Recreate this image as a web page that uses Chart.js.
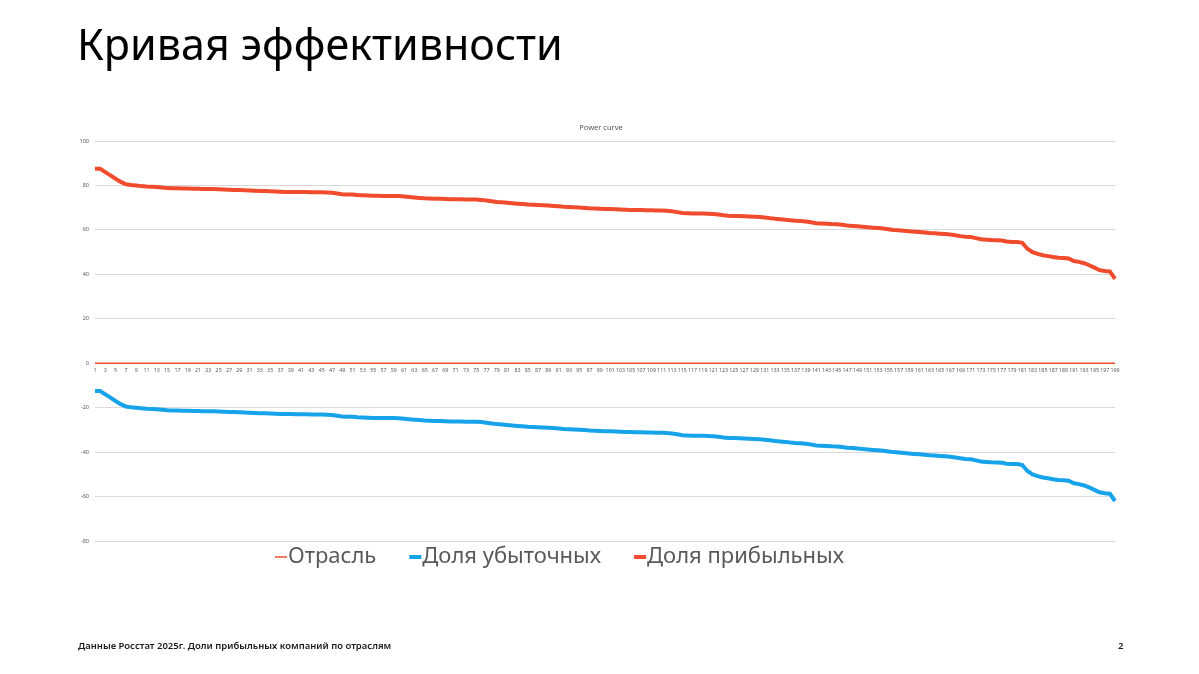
<!DOCTYPE html>
<html lang='ru'>
<head>
    <meta charset='UTF-8'>
    <title>Кривая эффективности</title>
    <script src="https://cdn.jsdelivr.net/npm/chart.js@4.4.0/dist/chart.umd.min.js"></script>
    <style>
        html, body{
            margin: 0;
            padding: 0;
            background: #fff;
        }
        #page{
            position: relative;
            width: 1199px;
            height: 674px;
            overflow: hidden;
            font-family: "Noto Sans", sans-serif;
        }
        #chart_parent{
            position: absolute;
            left: 0;
            top: 0;
            width: 1199px;
            height: 674px;
        }
        #slide_title{
            position: absolute;
            left: 77px;
            top: 22px;
            font-size: 43px;
            line-height: 1;
            color: #000;
        }
        #chart_title{
            position: absolute;
            left: 501px;
            width: 200px;
            top: 124px;
            text-align: center;
            font-size: 7.5px;
            line-height: 1;
            color: #595959;
        }
        #note{
            position: absolute;
            left: 78px;
            top: 641px;
            font-size: 9.5px;
            line-height: 1;
            font-weight: 600;
            color: #1a1a1a;
        }
        #page_no{
            position: absolute;
            left: 1118px;
            top: 641px;
            font-size: 9.5px;
            line-height: 1;
            font-weight: 600;
            color: #1a1a1a;
        }
    </style>
</head>
<body>
<div id="page">
    <div id="chart_parent">
        <canvas id="myChart"></canvas>
    </div>
    <div id="slide_title">Кривая эффективности</div>
    <div id="chart_title">Power curve</div>
    <div id="note">Данные Росстат 2025г. Доли прибыльных компаний по отраслям</div>
    <div id="page_no">2</div>
</div>
<script>
    // номера отраслей по оси X
    var v_labels = [
        1,2,3,4,5,6,7,8,9,10,11,12,13,14,15,16,17,18,19,20,
        21,22,23,24,25,26,27,28,29,30,31,32,33,34,35,36,37,38,39,40,
        41,42,43,44,45,46,47,48,49,50,51,52,53,54,55,56,57,58,59,60,
        61,62,63,64,65,66,67,68,69,70,71,72,73,74,75,76,77,78,79,80,
        81,82,83,84,85,86,87,88,89,90,91,92,93,94,95,96,97,98,99,100,
        101,102,103,104,105,106,107,108,109,110,111,112,113,114,115,116,117,118,119,120,
        121,122,123,124,125,126,127,128,129,130,131,132,133,134,135,136,137,138,139,140,
        141,142,143,144,145,146,147,148,149,150,151,152,153,154,155,156,157,158,159,160,
        161,162,163,164,165,166,167,168,169,170,171,172,173,174,175,176,177,178,179,180,
        181,182,183,184,185,186,187,188,189,190,191,192,193,194,195,196,197,198,199
    ];

    // Отрасль (нулевая линия)
    var v_industry = [
        0,0,0,0,0,0,0,0,0,0,0,0,0,0,0,0,0,0,0,0,
        0,0,0,0,0,0,0,0,0,0,0,0,0,0,0,0,0,0,0,0,
        0,0,0,0,0,0,0,0,0,0,0,0,0,0,0,0,0,0,0,0,
        0,0,0,0,0,0,0,0,0,0,0,0,0,0,0,0,0,0,0,0,
        0,0,0,0,0,0,0,0,0,0,0,0,0,0,0,0,0,0,0,0,
        0,0,0,0,0,0,0,0,0,0,0,0,0,0,0,0,0,0,0,0,
        0,0,0,0,0,0,0,0,0,0,0,0,0,0,0,0,0,0,0,0,
        0,0,0,0,0,0,0,0,0,0,0,0,0,0,0,0,0,0,0,0,
        0,0,0,0,0,0,0,0,0,0,0,0,0,0,0,0,0,0,0,0,
        0,0,0,0,0,0,0,0,0,0,0,0,0,0,0,0,0,0,0
    ];

    // Доля убыточных
    var v_loss = [
        -12.5,-12.5,-14,-15.5,-17,-18.4,-19.5,-19.8,-20,-20.3,
        -20.5,-20.6,-20.7,-20.9,-21.2,-21.3,-21.3,-21.4,-21.4,-21.5,
        -21.5,-21.6,-21.6,-21.6,-21.7,-21.8,-21.9,-22,-22.1,-22.2,
        -22.3,-22.4,-22.5,-22.5,-22.6,-22.7,-22.8,-22.9,-22.9,-23,
        -23,-23,-23.1,-23.1,-23.1,-23.2,-23.3,-23.6,-24,-24.1,
        -24.1,-24.3,-24.4,-24.5,-24.6,-24.6,-24.7,-24.7,-24.7,-24.8,
        -25,-25.2,-25.4,-25.6,-25.8,-25.9,-26,-26,-26.1,-26.2,
        -26.2,-26.2,-26.3,-26.3,-26.3,-26.5,-26.8,-27.1,-27.4,-27.6,
        -27.8,-28,-28.2,-28.4,-28.6,-28.7,-28.8,-28.9,-29,-29.2,
        -29.4,-29.6,-29.7,-29.8,-29.9,-30.1,-30.3,-30.4,-30.5,-30.6,
        -30.6,-30.7,-30.8,-30.9,-31,-31.1,-31.1,-31.2,-31.2,-31.3,
        -31.3,-31.4,-31.6,-32,-32.4,-32.5,-32.6,-32.6,-32.6,-32.7,
        -32.9,-33.1,-33.4,-33.6,-33.7,-33.8,-33.9,-34,-34.1,-34.2,
        -34.4,-34.7,-35,-35.2,-35.4,-35.7,-35.9,-36,-36.2,-36.6,
        -37,-37.1,-37.2,-37.4,-37.5,-37.7,-38,-38.2,-38.4,-38.6,
        -38.8,-39,-39.2,-39.4,-39.7,-40,-40.2,-40.4,-40.6,-40.8,
        -41,-41.2,-41.4,-41.5,-41.7,-41.9,-42.1,-42.4,-42.8,-43.1,
        -43.2,-43.7,-44.2,-44.4,-44.6,-44.7,-44.8,-45.2,-45.4,-45.4,
        -45.8,-48.5,-50,-50.8,-51.4,-51.8,-52.2,-52.5,-52.7,-52.9,
        -54,-54.4,-55,-55.9,-57,-58.1,-58.5,-58.7,-62
    ];

    // Доля прибыльных
    var v_profit = [
        87.5,87.5,86,84.5,83,81.6,80.5,80.2,80,79.7,
        79.5,79.4,79.3,79.1,78.8,78.7,78.7,78.6,78.6,78.5,
        78.5,78.4,78.4,78.4,78.3,78.2,78.1,78,77.9,77.8,
        77.7,77.6,77.5,77.5,77.4,77.3,77.2,77.1,77.1,77,
        77,77,76.9,76.9,76.9,76.8,76.7,76.4,76,75.9,
        75.9,75.7,75.6,75.5,75.4,75.4,75.3,75.3,75.3,75.2,
        75,74.8,74.6,74.4,74.2,74.1,74,74,73.9,73.8,
        73.8,73.8,73.7,73.7,73.7,73.5,73.2,72.9,72.6,72.4,
        72.2,72,71.8,71.6,71.4,71.3,71.2,71.1,71,70.8,
        70.6,70.4,70.3,70.2,70.1,69.9,69.7,69.6,69.5,69.4,
        69.4,69.3,69.2,69.1,69,68.9,68.9,68.8,68.8,68.7,
        68.7,68.6,68.4,68,67.6,67.5,67.4,67.4,67.4,67.3,
        67.1,66.9,66.6,66.4,66.3,66.2,66.1,66,65.9,65.8,
        65.6,65.3,65,64.8,64.6,64.3,64.1,64,63.8,63.4,
        63,62.9,62.8,62.6,62.5,62.3,62,61.8,61.6,61.4,
        61.2,61,60.8,60.6,60.3,60,59.8,59.6,59.4,59.2,
        59,58.8,58.6,58.5,58.3,58.1,57.9,57.6,57.2,56.9,
        56.8,56.3,55.8,55.6,55.4,55.3,55.2,54.8,54.6,54.6,
        54.2,51.5,50,49.2,48.6,48.2,47.8,47.5,47.3,47.1,
        46,45.6,45,44.1,43,41.9,41.5,41.3,38
    ];

    // тики оси Y
    var v_yTicks = [100, 80, 60, 40, 20, 0, -20, -40, -60, -80];

    var c_red = '#F04B2D';
    var c_blue = '#17A3EA';
    var c_text = '#595959';

    // легенда рисуем сами: короткая черта + подпись, как в Excel
    var legendPlugin = {
        id: 'slideLegend',
        afterDraw: function(chart){
            var ctx = chart.ctx;
            var x = 275;
            var y = 557;
            ctx.save();
            ctx.font = '22px "Noto Sans", sans-serif';
            ctx.textBaseline = 'middle';
            chart.data.datasets.forEach(function(ds){
                ctx.strokeStyle = ds.borderColor;
                ctx.lineWidth = ds.borderWidth;
                ctx.beginPath();
                ctx.moveTo(x, y);
                ctx.lineTo(x + 12, y);
                ctx.stroke();
                ctx.fillStyle = c_text;
                ctx.fillText(ds.label, x + 13, y);
                x += 13 + ctx.measureText(ds.label).width + 33;
            });
            ctx.restore();
        }
    };

    const ctx = document.getElementById('myChart').getContext('2d');
    const myChart = new Chart(ctx, {
        type: 'line',
        data: {
            labels: v_labels,
            datasets: [{
                label: 'Отрасль',
                data: v_industry,
                borderColor: c_red,
                borderWidth: 1.5,
                pointRadius: 0
            }, {
                label: 'Доля убыточных',
                data: v_loss,
                borderColor: c_blue,
                borderWidth: 4,
                pointRadius: 0
            }, {
                label: 'Доля прибыльных',
                data: v_profit,
                borderColor: c_red,
                borderWidth: 4,
                pointRadius: 0
            }]
        },
        options: {
            responsive: true,
            maintainAspectRatio: false,
            animation: false,
            layout: {
                padding: {left: 60, right: 84, top: 141, bottom: 133}
            },
            plugins: {
                legend: {display: false},
                tooltip: {enabled: false}
            },
            scales: {
                x: {
                    position: {y: 0},
                    offset: false,
                    grid: {display: false, drawTicks: false},
                    border: {display: false},
                    ticks: {
                        autoSkip: false,
                        maxRotation: 0,
                        minRotation: 0,
                        padding: 4,
                        color: c_text,
                        font: {family: '"Noto Sans", sans-serif', size: 5.3},
                        callback: function(value, index){
                            return index % 2 === 0 ? v_labels[index] : '';
                        }
                    }
                },
                y: {
                    min: -80,
                    max: 100,
                    afterFit: function(scale){ scale.width = 35; },
                    afterBuildTicks: function(scale){
                        scale.ticks = v_yTicks.map(function(v){ return {value: v}; });
                    },
                    grid: {color: '#D9D9D9', lineWidth: 1, drawTicks: false},
                    border: {display: false},
                    ticks: {
                        padding: 6,
                        color: c_text,
                        font: {family: '"Noto Sans", sans-serif', size: 5.5}
                    }
                }
            }
        },
        plugins: [legendPlugin]
    });
</script>
</body>
</html>
